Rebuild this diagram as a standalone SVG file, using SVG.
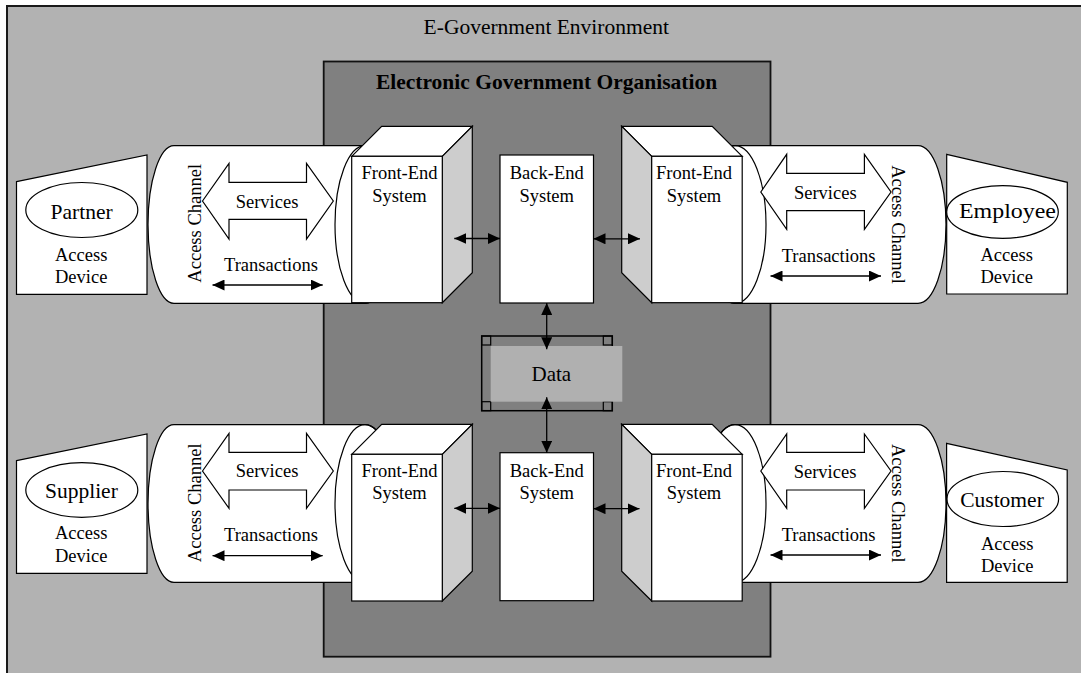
<svg xmlns="http://www.w3.org/2000/svg" width="1081" height="673" viewBox="0 0 1081 673">
<style>
text{font-family:"Liberation Serif","Times New Roman",serif;fill:#000}
.big{font-size:21.5px}
.lbl{font-size:18.5px}
.mid{text-anchor:middle}
.w{fill:#fff;stroke:#000;stroke-width:1.2}
.side{fill:#cdcdcd;stroke:#000;stroke-width:1.2}
.ln{fill:none;stroke:#000;stroke-width:1.2}
.arr{fill:none;stroke:#000;stroke-width:1.3;marker-start:url(#ah);marker-end:url(#ah)}
</style>
<defs>
<marker id="ah" viewBox="0 0 12 11" refX="12" refY="5.5" markerWidth="12" markerHeight="11" markerUnits="userSpaceOnUse" orient="auto-start-reverse">
<path d="M0,0 L12,5.5 L0,11 Z" fill="#000"/>
</marker>
</defs>

<g id="environment">
<rect x="7" y="6" width="1100" height="700" fill="#b2b2b2" stroke="#1a1a1a" stroke-width="2"/>
<text class="big mid" x="546.3" y="33.7">E-Government Environment</text>
</g>

<g id="organisation">
<rect x="323.7" y="61.5" width="446.8" height="595.2" fill="#808080" stroke="#111" stroke-width="1.8"/>
<text class="big mid" x="546.5" y="89" font-weight="bold">Electronic Government Organisation</text>
</g>

<!-- Partner -->
<g id="device-partner">
<polygon class="w" points="16.5,181.7 147,155 147,294.3 16.5,294.3"/>
<ellipse class="w" cx="81.8" cy="210" rx="56" ry="27.5"/>
<text class="big mid" x="81.6" y="219">Partner</text>
<text class="lbl mid" x="81.2" y="260.7">Access</text>
<text class="lbl mid" x="81.2" y="283.3">Device</text>
</g>
<g id="channel-partner">
<path class="w" d="M174,145.7 H365 A30,78.8 0 0 1 365,303.3 H174 A26,78.8 0 0 1 174,145.7 Z"/>
<ellipse class="ln" cx="365" cy="224.5" rx="30" ry="78.8"/>
<text class="lbl mid" transform="translate(201.4,223.3) rotate(-90)">Access Channel</text>
<path class="w" d="M202.5,201 L229,163.3 V182.3 H306.5 V163.3 L333.3,201 L306.5,239 V219.3 H229 V239 Z"/>
<text class="lbl mid" x="267" y="207.7">Services</text>
<text class="lbl mid" x="271" y="270.7">Transactions</text>
</g>
<g id="frontend-partner">
<polygon class="w" points="351.7,156.3 381.7,126.3 472.3,126.3 442.3,156.3"/>
<polygon class="side" points="442.3,156.3 472.3,126.3 472.3,272.7 442.3,302.7"/>
<rect class="w" x="351.7" y="156.3" width="90.6" height="146.4"/>
<text class="lbl mid" x="399.5" y="179">Front-End</text>
<text class="lbl mid" x="399.5" y="201.5">System</text>
</g>

<!-- Employee -->
<g id="device-employee">
<polygon class="w" points="946.7,154.3 1067.3,182.3 1067.3,294 946.7,294"/>
<ellipse class="w" cx="1002.5" cy="212" rx="55.8" ry="26.3"/>
<text class="big" x="959" y="218.3" textLength="97" lengthAdjust="spacingAndGlyphs">Employee</text>
<text class="lbl mid" x="1006.7" y="260.7">Access</text>
<text class="lbl mid" x="1006.7" y="282.7">Device</text>
</g>
<g id="channel-employee">
<path class="w" d="M735,145.7 H918 A28,78.8 0 0 1 918,303.3 H735 A31,78.8 0 0 1 735,145.7 Z"/>
<ellipse class="ln" cx="735" cy="224.5" rx="31" ry="78.8"/>
<text class="lbl mid" transform="translate(892,224.5) rotate(90)">Access Channel</text>
<path class="w" d="M760.8,192 L786.7,154.3 V173.3 H864.4 V154.3 L891,192 L864.4,229.3 V210.7 H786.7 V229.3 Z"/>
<text class="lbl mid" x="825.3" y="199">Services</text>
<text class="lbl mid" x="828.6" y="261.7">Transactions</text>
</g>
<g id="frontend-employee">
<polygon class="w" points="621.7,126.3 712.2,126.3 742.2,156.3 651.7,156.3"/>
<polygon class="side" points="651.7,156.3 621.7,126.3 621.7,272.7 651.7,302.7"/>
<rect class="w" x="651.7" y="156.3" width="90.5" height="146.4"/>
<text class="lbl mid" x="694" y="179">Front-End</text>
<text class="lbl mid" x="694" y="201.5">System</text>
</g>

<!-- Supplier -->
<g id="device-supplier">
<polygon class="w" points="16.5,460.7 147,434 147,573.3 16.5,573.3"/>
<ellipse class="w" cx="81.8" cy="490" rx="56" ry="27.3"/>
<text class="big mid" x="81.4" y="497.7">Supplier</text>
<text class="lbl mid" x="81.2" y="539.3">Access</text>
<text class="lbl mid" x="81.2" y="562.3">Device</text>
</g>
<g id="channel-supplier">
<path class="w" d="M174,424.7 H365 A30,78.8 0 0 1 365,582.3 H174 A26,78.8 0 0 1 174,424.7 Z"/>
<ellipse class="ln" cx="365" cy="503.5" rx="30" ry="78.8"/>
<text class="lbl mid" transform="translate(201.4,502.8) rotate(-90)">Access Channel</text>
<path class="w" d="M202.5,471 L229,433.3 V452.3 H306.5 V433.3 L333.3,471 L306.5,508.3 V490 H229 V508.3 Z"/>
<text class="lbl mid" x="267" y="477.3">Services</text>
<text class="lbl mid" x="271" y="540.7">Transactions</text>
</g>
<g id="frontend-supplier">
<polygon class="w" points="351.7,454.3 381.7,424.3 472.3,424.3 442.3,454.3"/>
<polygon class="side" points="442.3,454.3 472.3,424.3 472.3,571.3 442.3,601"/>
<rect class="w" x="351.7" y="454.3" width="90.6" height="146.7"/>
<text class="lbl mid" x="399.5" y="476.7">Front-End</text>
<text class="lbl mid" x="399.5" y="499.3">System</text>
</g>

<!-- Customer -->
<g id="device-customer">
<polygon class="w" points="946.6,443.3 1067.2,470 1067.2,582.3 946.6,582.3"/>
<ellipse class="w" cx="1002.8" cy="499" rx="55.8" ry="27.5"/>
<text class="big mid" x="1002" y="506.7">Customer</text>
<text class="lbl mid" x="1007.2" y="550">Access</text>
<text class="lbl mid" x="1007.2" y="571.7">Device</text>
</g>
<g id="channel-customer">
<path class="w" d="M735,424.7 H918 A28,78.8 0 0 1 918,582.3 H735 A31,78.8 0 0 1 735,424.7 Z"/>
<ellipse class="ln" cx="735" cy="503.5" rx="31" ry="78.8"/>
<text class="lbl mid" transform="translate(892,503.3) rotate(90)">Access Channel</text>
<path class="w" d="M760.8,471 L786.7,434 V452.3 H864.4 V434 L891,471 L864.4,508.3 V490 H786.7 V508.3 Z"/>
<text class="lbl mid" x="825" y="477.7">Services</text>
<text class="lbl mid" x="828.6" y="540.7">Transactions</text>
</g>
<g id="frontend-customer">
<polygon class="w" points="621.7,424.3 712.2,424.3 742.2,454.3 651.7,454.3"/>
<polygon class="side" points="651.7,454.3 621.7,424.3 621.7,571.3 651.7,601"/>
<rect class="w" x="651.7" y="454.3" width="90.5" height="146.7"/>
<text class="lbl mid" x="694" y="476.7">Front-End</text>
<text class="lbl mid" x="694" y="499.3">System</text>
</g>

<!-- Back-end systems -->
<g id="backend-top">
<rect class="w" x="500" y="155" width="93.5" height="148"/>
<text class="lbl mid" x="546.7" y="179">Back-End</text>
<text class="lbl mid" x="546.7" y="201.5">System</text>
</g>
<g id="backend-bottom">
<rect class="w" x="500" y="452.7" width="93.5" height="148"/>
<text class="lbl mid" x="546.7" y="476.7">Back-End</text>
<text class="lbl mid" x="546.7" y="498.8">System</text>
</g>

<!-- Data -->
<g id="data">
<rect x="481.7" y="336" width="130.6" height="74.7" fill="none" stroke="#000" stroke-width="1.5"/>
<rect x="481.7" y="336" width="9" height="9" fill="none" stroke="#000" stroke-width="1.2"/>
<rect x="603.3" y="336" width="9" height="9" fill="none" stroke="#000" stroke-width="1.2"/>
<rect x="481.7" y="401.7" width="9" height="9" fill="none" stroke="#000" stroke-width="1.2"/>
<rect x="603.3" y="401.7" width="9" height="9" fill="none" stroke="#000" stroke-width="1.2"/>
<rect x="490.7" y="346" width="131.6" height="55.7" fill="#b0b0b0"/>
<text class="mid" x="551.3" y="380.7" font-size="21">Data</text>
</g>

<g id="connectors">
<line class="arr" x1="454.3" y1="238.5" x2="500" y2="238.5"/>
<line class="arr" x1="593.5" y1="238.8" x2="640" y2="238.8"/>
<line class="arr" x1="454.3" y1="508.3" x2="500" y2="508.3"/>
<line class="arr" x1="593.5" y1="508.7" x2="639.5" y2="508.7"/>
<line class="arr" x1="546.7" y1="303" x2="546.7" y2="349.3"/>
<line class="arr" x1="546.7" y1="397.3" x2="546.7" y2="452.7"/>
<line class="arr" x1="212.5" y1="285" x2="322.7" y2="285"/>
<line class="arr" x1="770.5" y1="276" x2="881" y2="276"/>
<line class="arr" x1="212.5" y1="555.7" x2="322.7" y2="555.7"/>
<line class="arr" x1="770.5" y1="555" x2="881" y2="555"/>
</g>
</svg>
